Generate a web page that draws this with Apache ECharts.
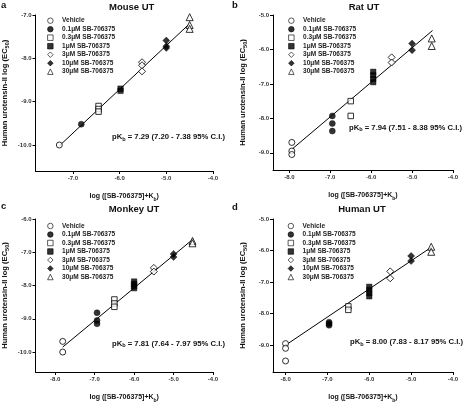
<!DOCTYPE html>
<html><head><meta charset="utf-8">
<script src="https://cdn.jsdelivr.net/npm/echarts@6/dist/echarts.min.js"></script>
<style>html,body{margin:0;padding:0;background:#fff}#c{width:463px;height:404px}</style>
</head><body><div id="c"></div>
<script>
// ---- data ----
const groupNames = ['Vehicle','0.1\u03bcM SB-706375','0.3\u03bcM SB-706375','1\u03bcM SB-706375','3\u03bcM SB-706375','10\u03bcM SB-706375','30\u03bcM SB-706375'];
const panelTitles = ['Mouse UT','Rat UT','Monkey UT','Human UT'];
const panelLetters = ['a','b','c','d'];
const pkb = ['7.29','7.94','7.81','8.00'];
const ciLow = ['7.20','7.51','7.64','7.83'];
const ciHigh = ['7.38','8.38','7.97','8.17'];

const mouseX = [-7.29, -6.82, -6.45, -5.98, -5.52, -5.0, -4.5];
const mouseY = [[-10.0],[-9.52],[-9.10,-9.17,-9.23],[-8.70,-8.75],[-8.09,-8.16,-8.30],[-7.59,-7.72,-7.76],[-7.05,-7.23,-7.32]];
const ratX = [-7.94, -6.95, -6.5, -5.95, -5.5, -5.0, -4.52];
const ratY = [[-8.70,-8.95,-9.05],[-7.93,-8.15,-8.37],[-7.50,-7.93],[-6.65,-6.75,-6.85,-6.95],[-6.23,-6.38],[-5.83,-6.02],[-5.68,-5.90]];
const monkeyX = [-7.81, -6.94, -6.5, -6.0, -5.5, -5.0, -4.52];
const monkeyY = [[-9.68,-10.0],[-8.82,-9.05,-9.15],[-8.42,-8.54,-8.64],[-7.88,-7.95,-8.02,-8.08],[-7.47,-7.58],[-7.05,-7.14],[-6.66,-6.73]];
const humanX = [-8.0, -6.96, -6.5, -6.0, -5.5, -5.0, -4.52];
const humanY = [[-8.95,-9.1,-9.50],[-8.27,-8.32,-8.37],[-7.77,-7.88],[-7.15,-7.25,-7.35,-7.45],[-6.66,-6.88],[-6.17,-6.33],[-5.88,-6.04]];

const fitX = [[-7.29,-4.5],[-7.94,-4.5],[-7.81,-4.5],[-8.0,-4.5]];
const fitY = [[-10.02,-7.2],[-8.9,-5.45],[-9.85,-6.6],[-9.0,-5.88]];

const xTicks = [[-7,-6,-5,-4],[-8,-7,-6,-5,-4],[-8,-7,-6,-5,-4],[-8,-7,-6,-5,-4]];
const yTicks = [[-10,-9,-8,-7],[-9,-8,-7,-6,-5],[-10,-9,-8,-7,-6],[-9,-8,-7,-6,-5]];
const xMin = [-7.8,-8.4,-8.5,-8.3], xMax = [-4,-4,-4,-4];
const yMin = [-10.6,-9.5,-10.6,-9.85], yMax = [-7,-5,-6,-5];

const allX = [mouseX, ratX, monkeyX, humanX];
const allY = [mouseY, ratY, monkeyY, humanY];

// ---- layout / style ----
const FONT = "'Liberation Sans', Arial, sans-serif";
const grids = [
  {left:33, top:15, width:180, height:156},
  {left:273, top:15, width:180, height:155},
  {left:33, top:219, width:180, height:156},
  {left:273, top:219, width:180, height:156}
];
const legendPos = [[47.2,17.2],[288.2,17.2],[47.2,222.5],[287.7,222.5]];
const titlePos = [[131.7,2],[364,2],[134,204],[362,204]];
const letterPos = [[1,0],[232,0],[1,201],[232,202]];
const pkbPos = [[112,132],[349,122.5],[112,338.5],[350,337]];
const symbols = ['circle','circle','rect','rect','diamond','diamond','triangle'];
const filled = [false,true,false,true,false,true,false];
const sizes = [6,6,5.5,5.5,7,7,7];

const series = [];
const xAxis = [], yAxis = [];
for (let p = 0; p < 4; p++) {
  xAxis.push({
    type:'value', gridIndex:p, min:xMin[p], max:xMax[p],
    axisLine:{onZero:false, lineStyle:{color:'#000', width:1}},
    axisTick:{customValues:xTicks[p], length:3, lineStyle:{color:'#000'}},
    axisLabel:{customValues:xTicks[p], formatter:v=>v.toFixed(1), fontSize:6, fontWeight:'bold', color:'#333', margin:4, fontFamily:FONT},
    splitLine:{show:false},
    name:'{t|log ([SB-706375]+K}{s|b}{t|)}', nameLocation:'middle', nameGap:20,
    nameTextStyle:{fontFamily:FONT, rich:{t:{fontSize:7, fontWeight:'bold', color:'#111', lineHeight:11, fontFamily:FONT}, s:{fontSize:5, fontWeight:'bold', color:'#111', lineHeight:5, verticalAlign:'bottom', fontFamily:FONT}}}
  });
  yAxis.push({
    type:'value', gridIndex:p, min:yMin[p], max:yMax[p],
    axisLine:{onZero:false, lineStyle:{color:'#000', width:1}},
    axisTick:{customValues:yTicks[p], length:3, lineStyle:{color:'#000'}},
    axisLabel:{customValues:yTicks[p], formatter:v=>v.toFixed(1), fontSize:6, fontWeight:'bold', color:'#333', margin:4, fontFamily:FONT},
    splitLine:{show:false},
    name:'{t|Human urotensin-II log (EC}{s|50}{t|)}', nameLocation:'middle', nameGap:25, nameRotate:90,
    nameTextStyle:{fontFamily:FONT, rich:{t:{fontSize:7.6, fontWeight:'bold', color:'#111', lineHeight:11, fontFamily:FONT}, s:{fontSize:5.5, fontWeight:'bold', color:'#111', lineHeight:5, verticalAlign:'bottom', fontFamily:FONT}}}
  });
  for (let g = 0; g < groupNames.length; g++) {
    series.push({
      type:'scatter', name:groupNames[g], xAxisIndex:p, yAxisIndex:p,
      symbol:symbols[g], symbolSize:sizes[g],
      itemStyle: filled[g] ? {color:'#000', borderColor:'#000', borderWidth:0.5} : {color:'#fff', borderColor:'#000', borderWidth:1},
      data: allY[p][g].map(y => [allX[p][g], y]),
      z:3
    });
  }
  series.push({
    type:'line', xAxisIndex:p, yAxisIndex:p, symbol:'none', silent:true,
    lineStyle:{color:'#000', width:1}, z:2,
    data:[[fitX[p][0], fitY[p][0]],[fitX[p][1], fitY[p][1]]]
  });
}

const legends = legendPos.map(pos => ({
  left:pos[0], top:pos[1], orient:'vertical', itemWidth:5.5, itemHeight:5.5, itemGap:1.5, padding:0,
  data:groupNames, selectedMode:false,
  itemStyle:{borderWidth:0.8},
  textStyle:{fontSize:6.5, lineHeight:6.5, fontWeight:'bold', color:'#222', fontFamily:FONT, padding:[0,0,0,4]}
}));

const titles = [];
for (let p = 0; p < 4; p++) {
  titles.push({text:panelTitles[p], left:titlePos[p][0], top:titlePos[p][1], textAlign:'center', padding:0,
    textStyle:{fontSize:9.5, fontWeight:'bold', color:'#111', fontFamily:FONT}});
  titles.push({text:panelLetters[p], left:letterPos[p][0], top:letterPos[p][1], padding:0,
    textStyle:{fontSize:9.5, fontWeight:'bold', color:'#111', fontFamily:FONT}});
  titles.push({text:'{t|pK}{s|b}{t| = ' + pkb[p] + ' (' + ciLow[p] + ' - ' + ciHigh[p] + ' 95% C.I.)}',
    left:pkbPos[p][0], top:pkbPos[p][1], padding:0,
    textStyle:{fontFamily:FONT, rich:{t:{fontSize:7.7, fontWeight:'bold', color:'#111', lineHeight:10, fontFamily:FONT}, s:{fontSize:5.5, fontWeight:'bold', color:'#111', lineHeight:5, verticalAlign:'bottom', fontFamily:FONT}}}});
}

const chart = echarts.init(document.getElementById('c'), null, {renderer:'canvas'});
chart.setOption({
  animation:false, backgroundColor:'#fff',
  title:titles, legend:legends, grid:grids, xAxis:xAxis, yAxis:yAxis, series:series
});
</script></body></html>
